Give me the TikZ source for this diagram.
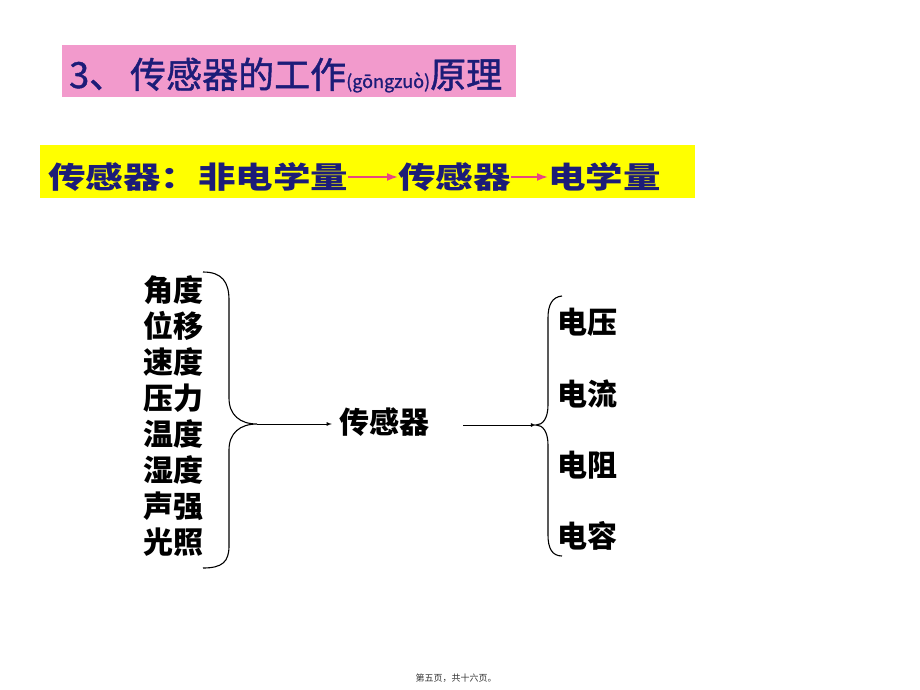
\documentclass[tikz,border=0pt]{standalone}
\usepackage{fontspec}
\usepackage{xcolor}
\usetikzlibrary{positioning, calc, arrows.meta}
\setmainfont{Noto Sans CJK SC}
\newfontfamily\cjk{Noto Sans CJK SC}
\newfontfamily\titlefont[FakeBold=1.2]{Noto Sans CJK SC}
\newfontfamily\bannerfont[FakeStretch=1.25]{Noto Sans CJK SC}

\definecolor{titlepink}{RGB}{242,154,204}
\definecolor{banneryellow}{RGB}{255,255,0}
\definecolor{inknavy}{RGB}{28,28,120}
\definecolor{arrowpink}{RGB}{232,70,130}

\tikzset{
    titletext/.style={font=\titlefont\fontsize{36}{36}\selectfont, text=inknavy, inner sep=0pt, anchor=base west},
    bannertext/.style={font=\bannerfont\bfseries\fontsize{30}{30}\selectfont, text=inknavy, inner sep=0pt, anchor=west},
    quantity/.style={font=\cjk\bfseries\fontsize{30}{30}\selectfont, inner sep=0pt, anchor=west},
    brace/.style={line width=1.1pt},
    bannerarrow/.style={-{Latex[length=11pt, width=8pt]}, arrowpink, line width=1.8pt},
}

\begin{document}
\begin{tikzpicture}[x=1pt, y=-1pt]
        \useasboundingbox[fill=white] (0,0) rectangle (920,690);

        %coordinates
        \coordinate (Lt) at (203,272);
        \coordinate (Lb) at (257,424);
        \coordinate (Rt) at (562,296);
        \coordinate (Rb) at (536,425);

        %backgrounds
        \fill[titlepink] (62,45) rectangle (516,97);
        \fill[banneryellow] (40,145) rectangle (695,198);

        %nodes
        \node[titletext] (title) at (69,88) {3、\hspace{5pt}传感器的工作{\fontsize{18}{18}\selectfont(gōngzuò)}原理};

        \node[bannertext] (b1) at (48,177) {传感器：非电学量};
        \node[bannertext] (b2) at (398,177) {传感器};
        \node[bannertext] (b3) at (548,177) {电学量};

        \node[quantity] (angle) at (143,290) {角度};
        \node[quantity] (shift) at (143,326) {位移};
        \node[quantity] (speed) at (143,362) {速度};
        \node[quantity] (press) at (143,398) {压力};
        \node[quantity] (temp)  at (143,434) {温度};
        \node[quantity] (humid) at (143,470) {湿度};
        \node[quantity] (sound) at (143,506) {声强};
        \node[quantity] (light) at (143,542) {光照};

        \node[quantity, anchor=center, inner sep=7pt] (sensor) at (384,422) {传感器};
        \coordinate (Rs) at ($(sensor.east) + (27,3)$);

        \node[quantity] (volt) at (557,322) {电压};
        \node[quantity] (curr) at (557,394) {电流};
        \node[quantity] (resi) at (557,465) {电阻};
        \node[quantity] (capa) at (557,536) {电容};

        \node[font=\cjk\fontsize{9}{9}\selectfont, text=black!80] (page) at (456,678) {第五页，共十六页。};

        %edges
        \draw[bannerarrow] (b1.east) -- (b2.west);
        \draw[bannerarrow] (b2.east) -- (b3.west);

        \draw[brace] (Lt) .. controls ($(Lt) + (19,0)$) and ($(Lt) + (26,10)$) .. ($(Lt) + (26,28)$)
            -- ($(Lb) + (-28,-26)$) .. controls ($(Lb) + (-28,-9)$) and ($(Lb) + (-17,0)$) .. (Lb)
            .. controls ($(Lb) + (-17,0)$) and ($(Lb) + (-28,9)$) .. ($(Lb) + (-28,26)$)
            -- ($(Lb) + (-28,122)$) .. controls ($(Lb) + (-28,138)$) and ($(Lb) + (-35,144)$) .. ($(Lb) + (-54,144)$);

        \draw[brace] (Rt) .. controls ($(Rt) + (-10,1)$) and ($(Rt) + (-14,9)$) .. ($(Rt) + (-14,22)$)
            -- ($(Rb) + (12,-20)$) .. controls ($(Rb) + (12,-7)$) and ($(Rb) + (7,0)$) .. (Rb)
            .. controls ($(Rb) + (7,0)$) and ($(Rb) + (12,7)$) .. ($(Rb) + (12,20)$)
            -- ($(Rb) + (12,110)$) .. controls ($(Rb) + (12,123)$) and ($(Rb) + (16,131)$) .. ($(Rb) + (26,131)$);

        \draw[->, >=latex, line width=0.8pt] (Lb) -- (Lb -| sensor.west);
        \draw[->, >=latex, line width=0.8pt] (Rs) -- (Rb);
    \end{tikzpicture}
\end{document}
